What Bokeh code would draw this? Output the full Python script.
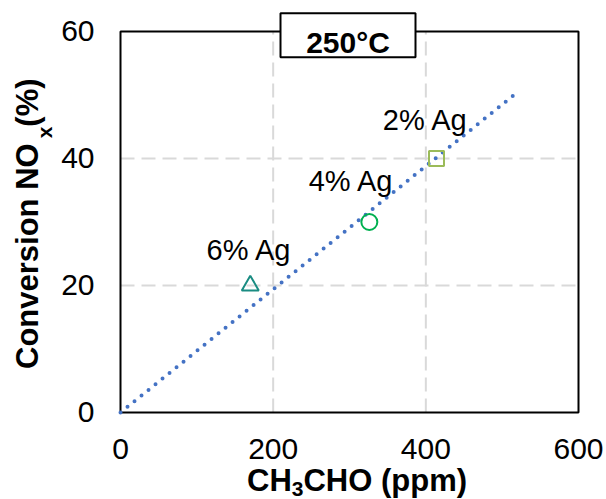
import numpy as np
from bokeh.plotting import figure
from bokeh.models import Range1d, ColumnDataSource
from bokeh.embed import file_html
from bokeh.resources import INLINE
from bokeh.core.properties import value

# ---------------- data ----------------
ch3cho_ppm = [170, 326, 414]          # x values
nox_conversion = [20, 30, 40]         # y values (%)
point_labels = ["6% Ag", "4% Ag", "2% Ag"]
x_ticks = [0, 200, 400, 600]
y_ticks = [0, 20, 40, 60]
title_text = "250°C"
trend_forward = 100                   # Excel trendline forward forecast

# ---------------- styles ----------------
point_markers = ["triangle", "circle", "square"]
point_colors = ["#1A8C82", "#00B050", "#9BBB59"]
point_sizes = [17, 16, 15]
label_dx = [-1, -18, -11]
label_dy = [-25, -30, -28]
FONT = "Liberation Sans"
BASE_FIX = 0.37   # baseline correction for text placement (fraction of font size)
GRID = dict(line_color="#D9D9D9", line_width=2, line_dash="14 7")

# ---------------- layout (picture pixels) ----------------
W, H = 605, 499
F_L, F_R, F_T, F_B = 120, 578, 31, 412   # plot-area edges
X0, X1, Y0, Y1 = x_ticks[0], x_ticks[-1], y_ticks[0], y_ticks[-1]


def dx(px):
    return X0 + (px - F_L) * (X1 - X0) / (F_R - F_L)


def dy(py):
    return Y0 + (F_B - py) * (Y1 - Y0) / (F_B - F_T)


p = figure(width=W, height=H, x_range=Range1d(dx(0), dx(W)), y_range=Range1d(dy(H), dy(0)),
           output_backend="svg", toolbar_location=None,
           x_axis_location=None, y_axis_location=None,
           min_border=0, min_border_left=0, min_border_right=0,
           min_border_top=0, min_border_bottom=0)
p.background_fill_color = "white"
p.border_fill_color = "white"
p.outline_line_color = None
p.grid.visible = False

# gridlines (inner ticks only)
gx = x_ticks[1:-1]
gy = y_ticks[1:-1]
p.segment(x0=gx, y0=[Y0] * len(gx), x1=gx, y1=[Y1] * len(gx), **GRID)
p.segment(x0=[X0] * len(gy), y0=gy, x1=[X1] * len(gy), y1=gy, **GRID)

# plot-area border
p.quad(left=[X0], right=[X1], bottom=[Y0], top=[Y1], fill_color=None,
       line_color="black", line_width=2)

# tick labels
p.text(x=x_ticks, y=[Y0] * len(x_ticks), text=[str(t) for t in x_ticks],
       y_offset=48 - BASE_FIX * 30, text_font=value(FONT), text_font_size="30px",
       text_align="center", text_baseline="alphabetic", text_color="black")
p.text(x=[X0] * len(y_ticks), y=y_ticks, text=[str(t) for t in y_ticks],
       x_offset=-26, y_offset=10.5 - BASE_FIX * 30, text_font=value(FONT),
       text_font_size="30px", text_align="right", text_baseline="alphabetic",
       text_color="black")

# trendline through origin (least squares), extended forward
xs = np.array(ch3cho_ppm, dtype=float)
ys = np.array(nox_conversion, dtype=float)
slope = (xs * ys).sum() / (xs * xs).sum()
tx = np.array([0.0, xs.max() + trend_forward])
p.line(tx, slope * tx, line_color="#4472C4", line_width=4,
       line_dash="0 9", line_cap="round")

LS = 29
src = ColumnDataSource(dict(x=ch3cho_ppm, y=nox_conversion, m=point_markers,
                            c=point_colors, s=point_sizes, t=point_labels,
                            dx=label_dx, dy=[d - BASE_FIX * LS for d in label_dy]))
p.scatter(x="x", y="y", marker="m", size="s", line_color="c", fill_color=None,
          line_width=2, source=src)
p.text(x="x", y="y", text="t", x_offset="dx", y_offset="dy", source=src,
       text_font=value(FONT), text_font_size=f"{LS}px", text_color="black",
       text_align="center", text_baseline="alphabetic")

# title box
p.quad(left=[dx(280)], right=[dx(415)], top=[dy(12.7)], bottom=[dy(56.7)],
       fill_color="white", line_color="black", line_width=2)


def add_text(px, py, txt, size, angle=0.0, align="left"):
    # px, py: wanted baseline-start position in picture pixels
    if angle == 0.0:
        py = py - BASE_FIX * size
    else:
        px = px - BASE_FIX * size
    p.text(x=[dx(px)], y=[dy(py)], text=[txt], text_font=value(FONT),
           text_font_size=f"{size}px", text_font_style="bold",
           text_baseline="alphabetic", text_align=align, text_color="black",
           angle=angle)


add_text(347.5, 53, title_text, 30, align="center")

# x axis title: CH3CHO (ppm)
TS, SS = 31, 21
x0, base = 246.5, 491.5
add_text(x0, base, "CH", TS)
x1 = x0 + 1.444 * TS
add_text(x1, base + 5, "3", SS)
x2 = x1 + 0.556 * SS
add_text(x2, base, "CHO (ppm)", TS)

# y axis title: Conversion NOx (%)
y0, ybase = 368.5, 38
add_text(ybase, y0, "Conversion NO", TS, angle=np.pi / 2)
y1 = y0 - 7.279 * TS - 5
add_text(ybase + 14, y1, "x", SS, angle=np.pi / 2)
y2 = y1 - 0.556 * SS
add_text(ybase, y2, " (%)", TS, angle=np.pi / 2)

open("out.html", "w").write(file_html(p, INLINE))
